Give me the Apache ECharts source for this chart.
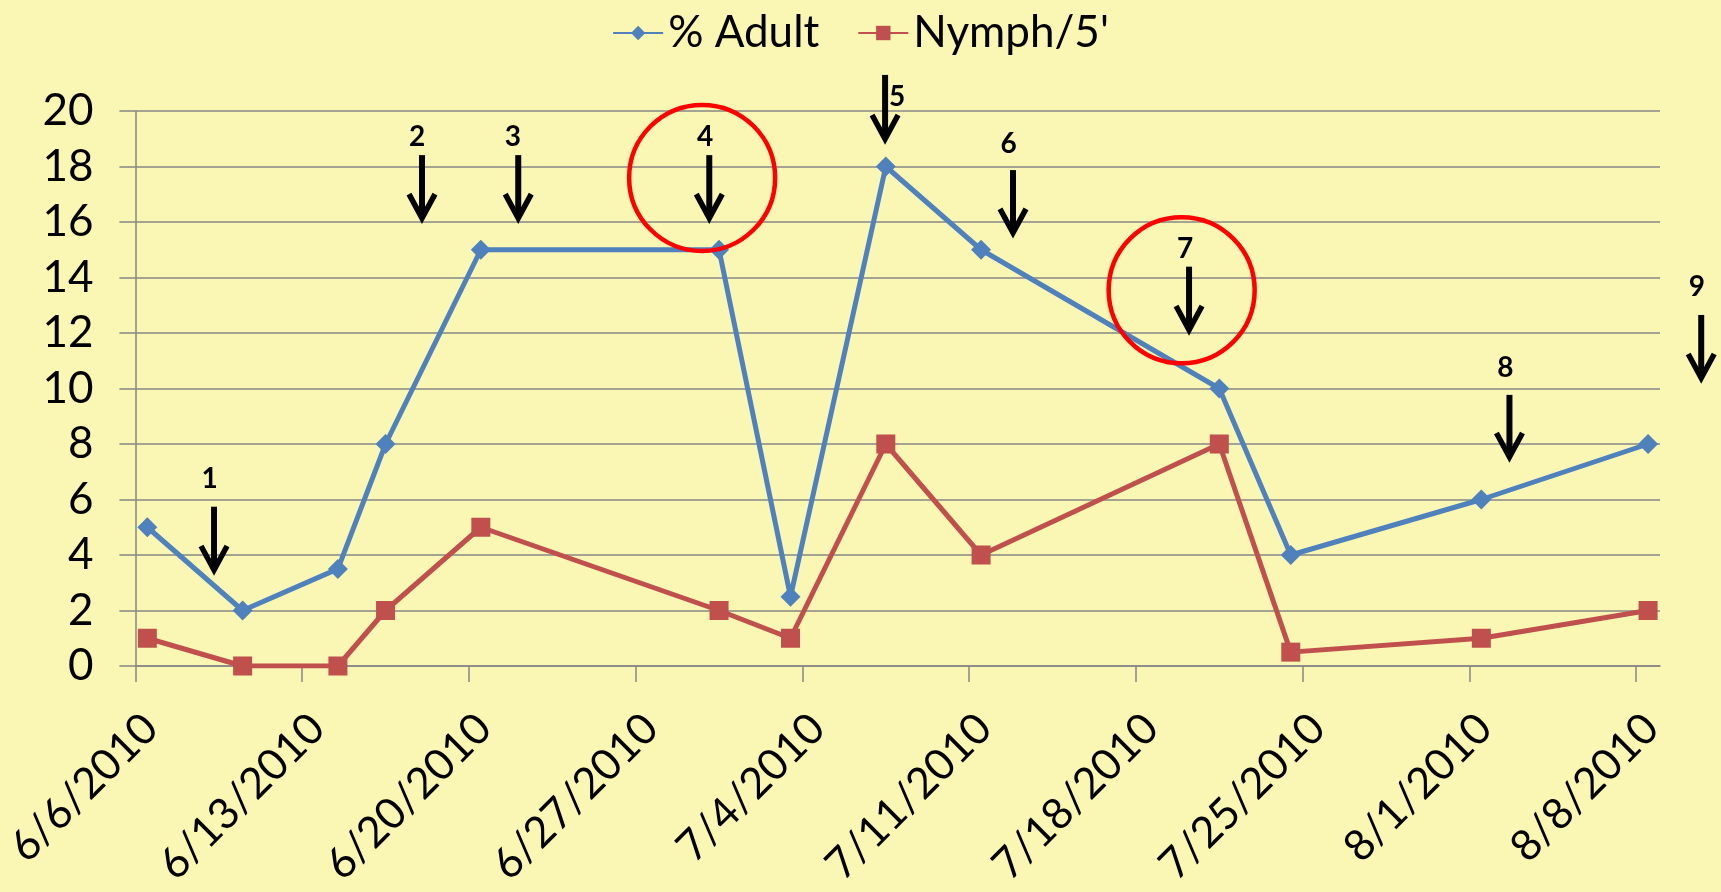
<!DOCTYPE html>
<html>
<head>
<meta charset="utf-8">
<script src="https://cdn.jsdelivr.net/npm/echarts@6/dist/echarts.min.js"></script>
<style>
  html, body { margin: 0; padding: 0; background: #FAF6B4; }
  #chart { width: 1721px; height: 892px; }
</style>
</head>
<body>
<div id="chart"></div>
<script>
// Sampling dates and counts
const sampleDates = ['2010-06-06', '2010-06-10', '2010-06-14', '2010-06-16', '2010-06-20', '2010-06-30',
  '2010-07-03', '2010-07-07', '2010-07-11', '2010-07-21', '2010-07-24', '2010-08-01', '2010-08-08'];
const adultPct = [5, 2, 3.5, 8, 15, 15, 2.5, 18, 15, 10, 4, 6, 8];
const nymphPer5 = [1, 0, 0, 2, 5, 2, 1, 8, 4, 8, 0.5, 1, 2];
const seriesNames = ['% Adult', "Nymph/5'"];

// Axis: days since start date, weekly tick labels
const startDate = '2010-06-06';
const axisDays = 64;
const weekTicks = [0, 7, 14, 21, 28, 35, 42, 49, 56, 63];
const yTicks = [0, 2, 4, 6, 8, 10, 12, 14, 16, 18, 20];

// Numbered event arrows (x in days, y in axis units)
const eventLabels = ['1', '2', '3', '4', '5', '6', '7', '8', '9'];
const eventDay = [3.3, 12.03, 16.07, 24.09, 31.47, 36.84, 44.23, 57.68, 65.73];
const eventTop = [5.74, 18.41, 18.41, 18.41, 21.3, 17.87, 14.39, 9.77, 12.65];
const eventTip = [3.46, 16.14, 16.14, 16.14, 18.99, 15.61, 12.11, 7.53, 10.38];
const eventLabelDay = [3.11, 11.83, 15.84, 23.92, 31.98, 36.66, 44.06, 57.51, 65.55];
const eventLabelVal = [6.74, 19.06, 19.06, 19.06, 20.5, 18.82, 15.03, 10.74, 13.66];

// Highlight rings (centre in days / axis units)
const ringDay = [23.79, 43.92];
const ringVal = [17.59, 13.54];

const DAY_MS = 86400000;
const t0 = Date.parse(startDate + 'T00:00:00Z');
function dayOffset(s) { return (Date.parse(s + 'T00:00:00Z') - t0) / DAY_MS; }
function dayLabel(d) {
  const dt = new Date(t0 + d * DAY_MS);
  return (dt.getUTCMonth() + 1) + '/' + dt.getUTCDate() + '/' + dt.getUTCFullYear();
}
// points sit in the middle of their day slot
const xs = sampleDates.map(s => dayOffset(s) + 0.5);
const adultData = xs.map((x, i) => [x, adultPct[i]]);
const nymphData = xs.map((x, i) => [x, nymphPer5[i]]);

const FONT = 'Lato, "Open Sans", sans-serif';
const chart = echarts.init(document.getElementById('chart'), null, { renderer: 'canvas' });

chart.setOption({
  backgroundColor: '#FAF6B4',
  animation: false,
  legend: {
    top: 6,
    left: 'center',
    itemWidth: 50,
    itemHeight: 18,
    itemGap: 38,
    textStyle: { fontFamily: FONT, fontSize: 44, color: '#000' },
    data: seriesNames
  },
  grid: { left: 134, right: 61, top: 111, bottom: 226, containLabel: false },
  xAxis: {
    type: 'value',
    min: 0,
    max: axisDays,
    interval: 7,
    axisLine: { show: true, lineStyle: { color: '#878787', width: 1.5 } },
    axisTick: { show: true, length: 16, customValues: weekTicks, lineStyle: { color: '#878787', width: 1.5 } },
    splitLine: { show: false },
    axisLabel: {
      customValues: weekTicks,
      rotate: 45,
      margin: 40,
      verticalAlign: 'top',
      fontFamily: FONT,
      fontSize: 43,
      color: '#000',
      formatter: v => dayLabel(v)
    }
  },
  yAxis: {
    type: 'value',
    min: 0,
    max: 20,
    interval: 2,
    axisLine: { show: true, lineStyle: { color: '#878787', width: 1.5 } },
    axisTick: { show: true, length: 16, lineStyle: { color: '#878787', width: 1.5 } },
    splitLine: { show: true, lineStyle: { color: '#878787', width: 1.5 } },
    axisLabel: { margin: 42, fontFamily: FONT, fontSize: 44, color: '#000',
      customValues: yTicks }
  },
  series: [
    {
      name: seriesNames[0],
      type: 'line',
      data: adultData,
      symbol: 'diamond',
      symbolSize: 20,
      itemStyle: { color: '#4F81BD' },
      lineStyle: { color: '#4F81BD', width: 5 },
      z: 3
    },
    {
      name: seriesNames[1],
      type: 'line',
      data: nymphData,
      symbol: 'rect',
      symbolSize: 19,
      itemStyle: { color: '#C0504D' },
      lineStyle: { color: '#C0504D', width: 5 },
      z: 2
    }
  ]
});

// Annotation layer: arrows, numbers and red rings placed through the axes
function drawAnnotations() {
  const toPx = (d, v) => chart.convertToPixel({ gridIndex: 0 }, [d, v]);
  const els = [];
  eventLabels.forEach((lab, i) => {
    const top = toPx(eventDay[i], eventTop[i]);
    const tip = toPx(eventDay[i], eventTip[i]);
    const lp = toPx(eventLabelDay[i], eventLabelVal[i]);
    els.push({
      type: 'line', z: 10,
      shape: { x1: top[0], y1: top[1], x2: tip[0], y2: tip[1] - 3 },
      style: { stroke: '#000', lineWidth: 6 }
    });
    els.push({
      type: 'polyline', z: 10,
      shape: { points: [[tip[0] - 13, tip[1] - 24], [tip[0], tip[1]], [tip[0] + 13, tip[1] - 24]] },
      style: { stroke: '#000', lineWidth: 5.5, fill: null, lineJoin: 'miter' }
    });
    els.push({
      type: 'text', z: 10,
      x: lp[0], y: lp[1],
      style: { text: lab, fontFamily: FONT, fontWeight: 'bold', fontSize: 28, fill: '#000',
        align: 'center', verticalAlign: 'middle' }
    });
  });
  ringDay.forEach((d, i) => {
    const c = toPx(d, ringVal[i]);
    els.push({
      type: 'circle', z: 9,
      shape: { cx: c[0], cy: c[1], r: 73 },
      style: { stroke: '#FF0000', lineWidth: 4.5, fill: null }
    });
  });
  chart.setOption({ graphic: { elements: els } });
}
drawAnnotations();
</script>
</body>
</html>
